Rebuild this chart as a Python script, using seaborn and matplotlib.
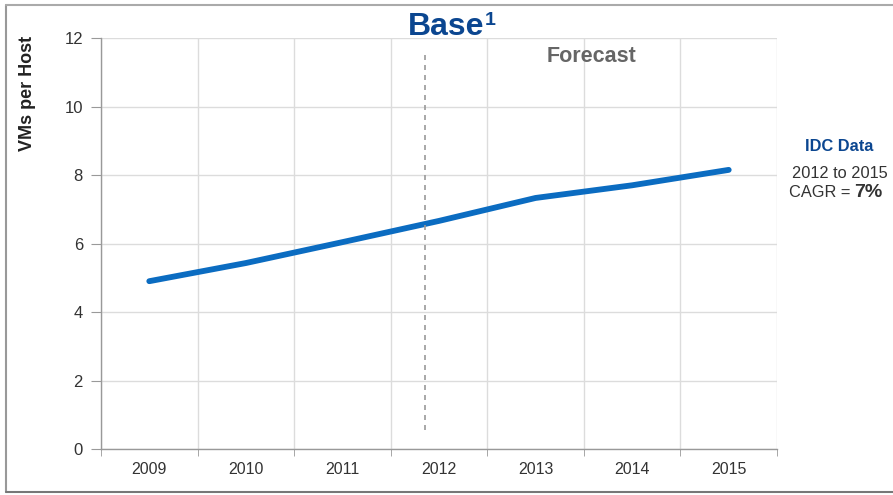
import pandas as pd
import matplotlib.pyplot as plt
import seaborn as sns
from matplotlib.lines import Line2D

years = ["2009", "2010", "2011", "2012", "2013", "2014", "2015"]
vms_per_host = [4.9, 5.43, 6.04, 6.66, 7.33, 7.7, 8.15]
y_ticks = [0, 2, 4, 6, 8, 10, 12]

sns.set_style("white")
plt.rcParams['font.family'] = ['Liberation Sans', 'DejaVu Sans']

df = pd.DataFrame({"Year": years, "VMs": vms_per_host})

fig = plt.figure(figsize=(8.93, 4.95), dpi=100)
ax = fig.add_axes([0.1131, 0.0929, 0.7570, 0.8303])

sns.lineplot(data=df, x="Year", y="VMs", color="#0b6cc1", linewidth=4.2,
             solid_capstyle="round", ax=ax)

ax.set_xlim(-0.5, len(years) - 0.5)
ax.set_ylim(0, 12)
ax.set_yticks(y_ticks)
ax.set_xticks(range(len(years)))
ax.set_xticklabels(years)
ax.set_xticks([i - 0.5 for i in range(len(years) + 1)], minor=True)

ax.grid(True, axis="y", which="major", color="#dcdcdc", linewidth=1)
ax.grid(True, axis="x", which="minor", color="#dcdcdc", linewidth=1)
ax.grid(False, axis="x", which="major")
ax.set_axisbelow(True)

ax.tick_params(axis="x", which="major", length=0, pad=9, labelsize=11.5, labelcolor="#333333")
ax.tick_params(axis="x", which="minor", length=5, color="#999999", direction="out", bottom=True)
ax.tick_params(axis="y", length=7, color="#999999", direction="out", pad=6,
               labelsize=12, labelcolor="#333333", left=True)

for side in ["top", "right"]:
    ax.spines[side].set_visible(False)
for side in ["left", "bottom"]:
    ax.spines[side].set_color("#999999")
    ax.spines[side].set_linewidth(1)

ax.set_xlabel("")
ax.set_ylabel("")
fig.text(0.031, 0.812, "VMs per Host", fontsize=13, fontweight="bold", color="#222222",
         rotation=90, ha="center", va="center")

# forecast divider
ax.plot([2.86, 2.86], [0.55, 11.5], linestyle=(0, (3, 3)), color="#999999", linewidth=1.2)
ax.text(4.58, 11.45, "Forecast", fontsize=15.5, fontweight="bold", color="#666666",
        ha="center", va="center")

fig.text(0.4995, 0.945, "Base", fontsize=23, fontweight="bold",
         color="#0b4690", ha="center", va="center")
fig.text(0.543, 0.958, "1", fontsize=14, fontweight="bold",
         color="#0b4690", ha="left", va="center")

fig.text(0.940, 0.705, "IDC Data", fontsize=11.8, fontweight="bold", color="#0b4690",
         ha="center", va="center")
fig.text(0.940, 0.650, "2012 to 2015", fontsize=11.8, color="#333333",
         ha="center", va="center")
fig.text(0.957, 0.612, "CAGR = ", fontsize=11.8, color="#333333", ha="right", va="center")
fig.text(0.957, 0.612, "7%", fontsize=14, fontweight="bold", color="#333333",
         ha="left", va="center")

# frame around the slide
fig.add_artist(Line2D([0.0067, 0.0067], [0.006, 0.99], color="#999999", linewidth=1.5))
fig.add_artist(Line2D([0.0067, 1.0], [0.99, 0.99], color="#aaaaaa", linewidth=1.5))
fig.add_artist(Line2D([0.0067, 1.0], [0.006, 0.006], color="#777777", linewidth=1.5))

fig.savefig("out.png", dpi=100)
